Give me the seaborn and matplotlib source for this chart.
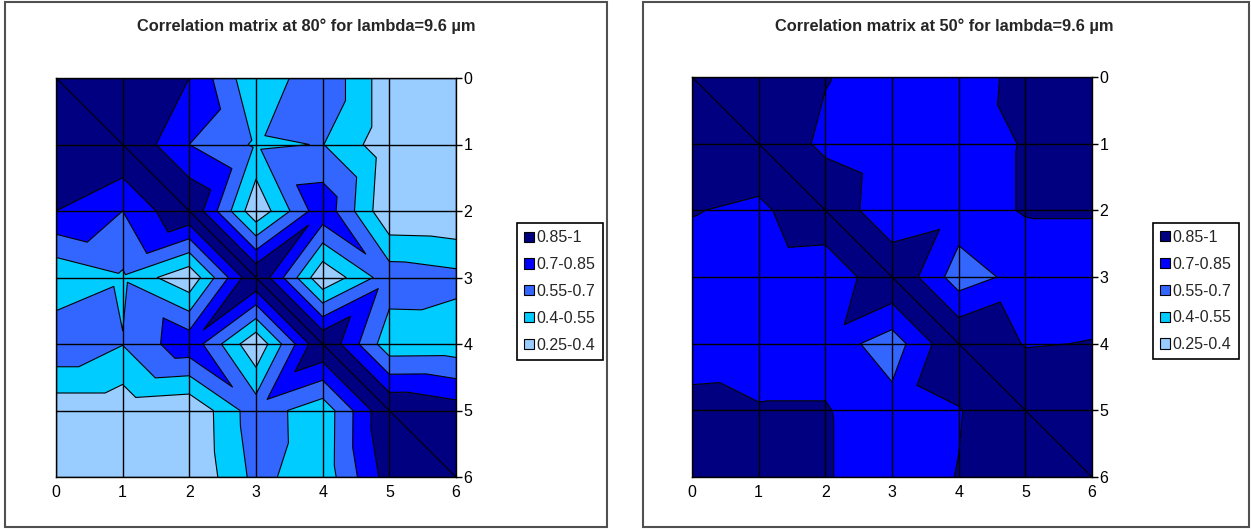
import numpy as np
import matplotlib
matplotlib.use("Agg")
import matplotlib.pyplot as plt
import matplotlib.tri as mtri
from matplotlib.patches import Patch, Rectangle
import seaborn as sns


positions = [0, 1, 2, 3, 4, 5, 6]
tick_labels = ["0", "1", "2", "3", "4", "5", "6"]

band_edges = [0.25, 0.4, 0.55, 0.7, 0.85, 1.0]
band_labels = ["0.25-0.4", "0.4-0.55", "0.55-0.7", "0.7-0.85", "0.85-1"]
band_colors = ["#99CCFF", "#00CCFF", "#3366FF", "#0000FF", "#000080"]

# correlation matrices
corr_80 = [
    [1.00, 0.93, 0.85, 0.42, 0.68, 0.30, 0.32],
    [0.93, 1.00, 0.70, 0.53, 0.555, 0.30, 0.30],
    [0.85, 0.70, 1.00, 0.28, 0.81, 0.265, 0.255],
    [0.42, 0.53, 0.28, 1.00, 0.27, 0.64, 0.595],
    [0.68, 0.555, 0.81, 0.27, 1.00, 0.45, 0.455],
    [0.30, 0.30, 0.265, 0.64, 0.45, 1.00, 0.925],
    [0.32, 0.30, 0.255, 0.595, 0.455, 0.925, 1.00],
]
corr_50 = [
    [1.00, 0.93, 0.86, 0.76, 0.77, 0.90, 0.92],
    [0.93, 1.00, 0.81, 0.73, 0.78, 0.86, 0.90],
    [0.86, 0.81, 1.00, 0.71, 0.79, 0.86, 0.86],
    [0.76, 0.73, 0.71, 1.00, 0.62, 0.76, 0.78],
    [0.77, 0.78, 0.79, 0.62, 1.00, 0.84, 0.855],
    [0.90, 0.86, 0.86, 0.76, 0.84, 1.00, 0.92],
    [0.92, 0.90, 0.86, 0.78, 0.855, 0.92, 1.00],
]

titles = ["Correlation matrix at 80° for lambda=9.6 µm",
          "Correlation matrix at 50° for lambda=9.6 µm"]


def excel_triangles(z):
    # split every grid cell along the diagonal joining its two higher corners
    n = len(z)
    tris = []
    for i in range(n - 1):
        for j in range(n - 1):
            tl, tr = i * n + j, i * n + j + 1
            bl, br = (i + 1) * n + j, (i + 1) * n + j + 1
            if z[i][j] + z[i + 1][j + 1] >= z[i][j + 1] + z[i + 1][j]:
                tris += [[tl, tr, br], [tl, br, bl]]
            else:
                tris += [[tl, tr, bl], [tr, br, bl]]
    return tris


def draw_matrix(ax, z):
    z = np.array(z)
    xx, yy = np.meshgrid(positions, positions)
    tri = mtri.Triangulation(xx.ravel(), yy.ravel(), excel_triangles(z))
    ax.tricontourf(tri, z.ravel(), levels=band_edges, colors=band_colors, antialiased=True)
    ax.tricontour(tri, z.ravel(), levels=band_edges[1:-1], colors="black", linewidths=0.8)
    diag = [p for p in positions if z[p, p] == 1.0]
    ax.plot(diag, diag, color="black", lw=0.8)

    ax.set_xlim(positions[0], positions[-1])
    ax.set_ylim(positions[-1], positions[0])
    ax.set_xticks(positions)
    ax.set_xticklabels(tick_labels)
    ax.set_yticks(positions)
    ax.set_yticklabels(tick_labels)
    ax.yaxis.tick_right()
    ax.tick_params(direction="out", length=4, width=1, colors="black", labelsize=11.5, pad=1.5)
    ax.grid(True, color="black", linewidth=1)
    ax.set_axisbelow(False)
    for sp in ax.spines.values():
        sp.set_color("black")
        sp.set_linewidth(1)

    handles = [Patch(facecolor=c, edgecolor="black", linewidth=0.8, label=l)
               for c, l in zip(band_colors[::-1], band_labels[::-1])]
    leg = ax.legend(handles=handles, loc="center left", bbox_to_anchor=(1.152, 0.465),
                    frameon=True, fancybox=False, edgecolor="black", framealpha=1,
                    handlelength=0.6, handleheight=0.6, handletextpad=0.2,
                    labelspacing=0.74, borderpad=0.45, borderaxespad=0, fontsize=11.5)
    leg.get_frame().set_linewidth(1.2)


sns.set_style("white")
plt.rcParams["font.family"] = ["Liberation Sans", "DejaVu Sans"]

W, H = 1251, 529
fig = plt.figure(figsize=(W / 100, H / 100), dpi=100)
fig.patch.set_facecolor("white")

plot_boxes = [(56, 78, 456, 477), (692, 77, 1092, 477)]
frames = [(5, 2, 607, 527), (643, 2, 1249, 527)]
title_x = [306, 944]

for k, z in enumerate([corr_80, corr_50]):
    x0, y0, x1, y1 = plot_boxes[k]
    ax = fig.add_axes([x0 / W, 1 - y1 / H, (x1 - x0) / W, (y1 - y0) / H])
    draw_matrix(ax, z)
    fx0, fy0, fx1, fy1 = frames[k]
    fig.add_artist(Rectangle((fx0 / W, 1 - fy1 / H), (fx1 - fx0) / W, (fy1 - fy0) / H,
                             transform=fig.transFigure, fill=False,
                             edgecolor="#505050", linewidth=1.5))
    fig.text(title_x[k] / W, 1 - 26 / H, titles[k], ha="center", va="center",
             fontsize=11.8, fontweight="bold")

fig.savefig("out.png", dpi=100)
